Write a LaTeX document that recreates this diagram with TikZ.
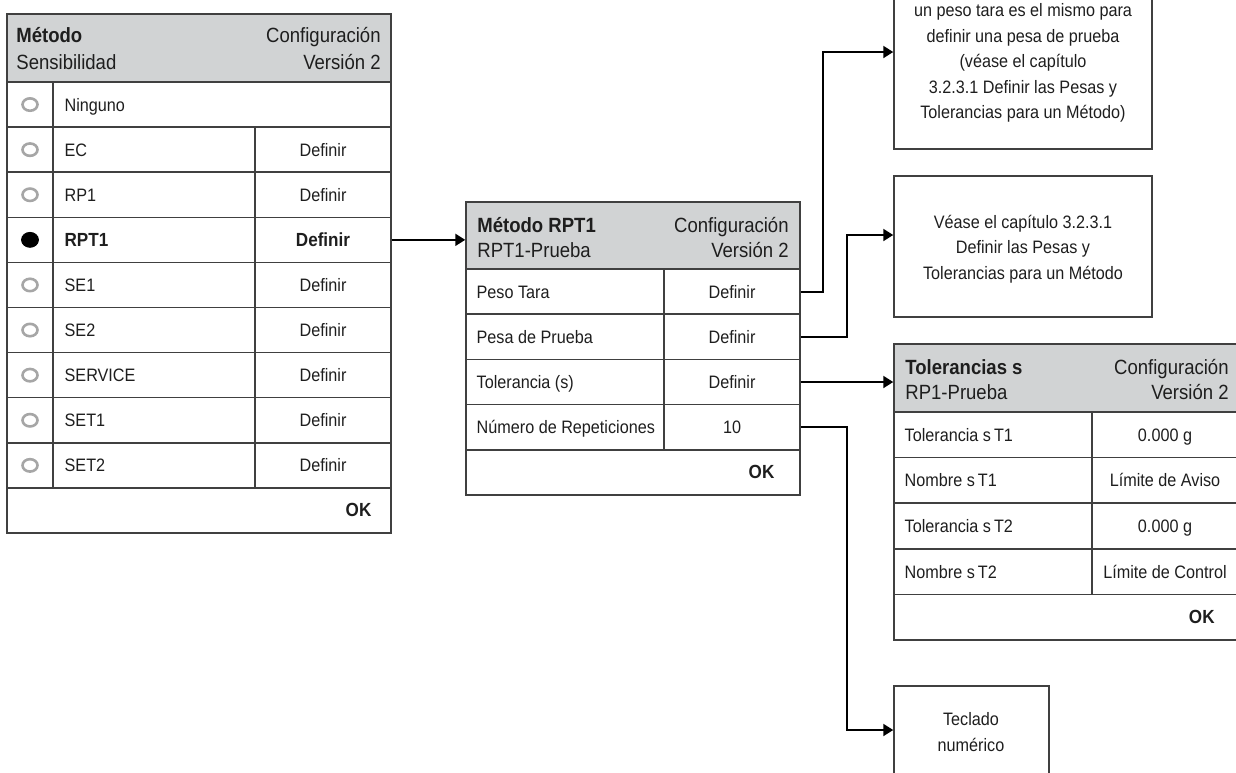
\documentclass[tikz,border=0pt]{standalone}
\usepackage{fontspec}
\setmainfont{Liberation Sans}[FakeStretch=0.9]
\setsansfont{Liberation Sans}[FakeStretch=0.9]
\usetikzlibrary{fit,arrows.meta,shapes.geometric,calc}
\definecolor{headgray}{RGB}{209,211,212}
\definecolor{bordercol}{RGB}{64,64,64}
\definecolor{txtcol}{RGB}{30,30,30}
\begin{document}
\begin{tikzpicture}[x=0.5pt,y=-0.5pt,
  cell/.style={draw=bordercol,line width=0.75pt,inner sep=0pt},
  head/.style={cell,fill=headgray},
  txt/.style={inner sep=0pt,text=txtcol,font=\fontsize{9}{12.5}\selectfont,text height=6.5pt,text depth=0pt},
  btxt/.style={txt,font=\fontsize{9.5}{12.5}\selectfont\bfseries},
  htxt/.style={inner sep=0pt,text=txtcol,font=\fontsize{10.3}{12.5}\selectfont,text height=7.4pt,text depth=0pt},
  hbtxt/.style={htxt,font=\fontsize{10.3}{12.5}\selectfont\bfseries},
  para/.style={inner sep=0pt,text=txtcol,align=center,font=\fontsize{9}{12.75}\selectfont},
  radio/.style={ellipse,draw=gray!70,line width=1.3pt,fill=white,minimum width=7.5pt,minimum height=6.2pt,inner sep=0pt},
  radiofull/.style={ellipse,draw=black,fill=black,minimum width=8.5pt,minimum height=7.5pt,inner sep=0pt},
  conn/.style={draw=black,line width=1pt,-{Triangle[length=5pt,width=6pt]}}]
\useasboundingbox (0,0) rectangle (1236,772);

% ---------------- Left panel ----------------
\node[head,fit={(7,14)(391,82)}] (lhead) {};
\node[hbtxt,anchor=west] (lh1) at (16,35) {Método};
\node[htxt,anchor=west] (lh2) at (16,62) {Sensibilidad};
\node[htxt,anchor=east] (lh3) at (381,35) {Configuración};
\node[htxt,anchor=east] (lh4) at (381,62) {Versión 2};

% Ninguno row
\node[cell,fit={(7,82)(53,127.1)}] (lr1) {};
\node[cell,fit={(53,82)(391,127.1)}] (ln1) {};
\node[radio] (lb1) at (lr1.center) {};
\node[txt,anchor=west] (lt1) at ([xshift=6pt]ln1.west) {Ninguno};

\foreach \i/\lab in {2/EC,3/RP1,5/SE1,6/SE2,7/SERVICE,8/SET1,9/SET2} {
  \pgfmathsetmacro\ya{82+45.1*(\i-1)}
  \pgfmathsetmacro\yb{\ya+45.1}
  \node[cell,fit={(7,\ya)(53,\yb)}] (lr\i) {};
  \node[cell,fit={(53,\ya)(255,\yb)}] (ln\i) {};
  \node[cell,fit={(255,\ya)(391,\yb)}] (ld\i) {};
  \node[radio] (lb\i) at (lr\i.center) {};
  \node[txt,anchor=west] (lt\i) at ([xshift=6pt]ln\i.west) {\lab};
  \node[txt] (lv\i) at (ld\i.center) {Definir};
}
% RPT1 row (selected)
\node[cell,fit={(7,217.3)(53,262.4)}] (lr4) {};
\node[cell,fit={(53,217.3)(255,262.4)}] (ln4) {};
\node[cell,fit={(255,217.3)(391,262.4)}] (ld4) {};
\node[radiofull] (lb4) at (lr4.center) {};
\node[btxt,anchor=west] (lt4) at ([xshift=6pt]ln4.west) {RPT1};
\node[btxt] (lv4) at (ld4.center) {Definir};
% OK row
\node[cell,fit={(7,487.9)(391,533)}] (lok) {};
\node[btxt,anchor=east] (lokt) at ([xshift=-10pt]lok.east) {OK};

% ---------------- Middle panel ----------------
\node[head,fit={(466,202)(800,269)}] (mhead) {};
\node[hbtxt,anchor=west] (mh1) at (477,225) {Método RPT1};
\node[htxt,anchor=west] (mh2) at (477,250) {RPT1-Prueba};
\node[htxt,anchor=east] (mh3) at (789,225) {Configuración};
\node[htxt,anchor=east] (mh4) at (789,250) {Versión 2};
\foreach \i/\lab/\val in {1/Peso Tara/Definir,2/Pesa de Prueba/Definir,3/Tolerancia (s)/Definir,4/Número de Repeticiones/10} {
  \pgfmathsetmacro\ya{269+45.2*(\i-1)}
  \pgfmathsetmacro\yb{\ya+45.2}
  \node[cell,fit={(466,\ya)(664,\yb)}] (mn\i) {};
  \node[cell,fit={(664,\ya)(800,\yb)}] (mv\i) {};
  \node[txt,anchor=west] (mt\i) at ([xshift=5.5pt]mn\i.west) {\lab};
  \node[txt] (mw\i) at (mv\i.center) {\val};
}
\node[cell,fit={(466,449.8)(800,495)}] (mok) {};
\node[btxt,anchor=east] (mokt) at ([xshift=-13pt]mok.east) {OK};

% ---------------- Right panel ----------------
\node[head,fit={(894,344)(1242,412)}] (rhead) {};
\node[hbtxt,anchor=west] (rh1) at (905,367) {Tolerancias s};
\node[htxt,anchor=west] (rh2) at (905,392) {RP1-Prueba};
\node[htxt,anchor=east] (rh3) at (1229,367) {Configuración};
\node[htxt,anchor=east] (rh4) at (1229,392) {Versión 2};
\foreach \i/\lab/\val in {1/Tolerancia s\,T1/0.000 g,2/Nombre s\,T1/Límite de Aviso,3/Tolerancia s\,T2/0.000 g,4/Nombre s\,T2/Límite de Control} {
  \pgfmathsetmacro\ya{412+45.6*(\i-1)}
  \pgfmathsetmacro\yb{\ya+45.6}
  \node[cell,fit={(894,\ya)(1092,\yb)}] (rn\i) {};
  \node[cell,fit={(1092,\ya)(1242,\yb)}] (rv\i) {};
  \node[txt,anchor=west] (rt\i) at ([xshift=5.5pt]rn\i.west) {\lab};
  \node[txt] (rw\i) at ([xshift=-1pt]rv\i.center) {\val};
}
\node[cell,fit={(894,594.4)(1242,640)}] (rok) {};
\node[btxt,anchor=east] (rokt) at (1215,617) {OK};

% ---------------- Text boxes ----------------
\node[cell,fit={(894,-40)(1152,149)}] (box1) {};
\node[para] (b1t) at (1023,63) {un peso tara es el mismo para\\definir una pesa de prueba\\(véase el capítulo\\3.2.3.1 Definir las Pesas y\\Tolerancias para un Método)};
\node[cell,fit={(894,176)(1152,317)}] (box2) {};
\node[para] (b2t) at (1023,249) {Véase el capítulo 3.2.3.1\\Definir las Pesas y\\Tolerancias para un Método};
\node[cell,fit={(894,686)(1049,820)}] (box4) {};
\node[para] (b4t) at (971,732) {Teclado\\numérico};

% ---------------- Connectors ----------------
\coordinate (j1) at (823,52);
\coordinate (j2) at (847,235);
\coordinate (j4) at (847,730);
\draw[conn] (ld4.east) -- (ld4.east -| mhead.west);
\draw[conn] (mv1.east) -| (j1) -- (j1 -| box1.west);
\draw[conn] (mv2.east) -| (j2) -- (j2 -| box2.west);
\draw[conn] (mv3.east) -- (mv3.east -| rhead.west);
\draw[conn] (mv4.east) -| (j4) -- (j4 -| box4.west);
\end{tikzpicture}
\end{document}
